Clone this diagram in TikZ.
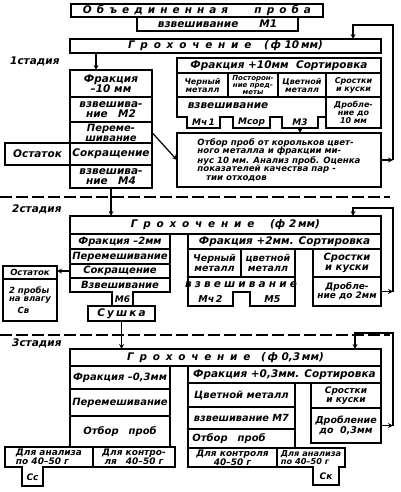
\documentclass[tikz,border=0pt]{standalone}
\usepackage{fontspec}
\setmainfont{DejaVu Sans}
\usetikzlibrary{calc}
\newcommand{\gostfont}[1]{\fontsize{#1}{#1}\selectfont\bfseries\itshape}
\tikzstyle{cell} = [rectangle, draw=black, line width=1.4pt, anchor=north west, inner sep=0.5pt, outer sep=0pt, align=center, font=\gostfont{10.5}]
\tikzstyle{txt} = [inner sep=0pt, align=center, font=\gostfont{10.5}]
\tikzstyle{outline} = [draw=black, line width=1.4pt]
\tikzstyle{arrow} = [line width=1.2pt,->,>=stealth]
\tikzstyle{stageline} = [line width=1.6pt, dash pattern=on 12pt off 4pt]
\tikzstyle{stage} = [anchor=west, inner sep=0pt, font=\gostfont{10.5}]
\newcommand{\wide}[2]{{\addfontfeature{LetterSpace=#1}#2}}
\begin{document}
\begin{tikzpicture}[x=1pt, y=-1pt]
  \useasboundingbox (0,0) rectangle (400,492);
  % stage 1
  \node (probe)[cell, minimum width=252, minimum height=13] at (71,4) {\wide{48}{Объединенная}\hspace{2.5em}\wide{48}{проба}};
  \node (weigh1)[cell, minimum width=161, minimum height=14] at (137,17) {взвешивание\hspace{2em}М1};
  \node (grokh1)[cell, minimum width=311, minimum height=14] at (70,39) {\wide{55}{Грохочение}\hspace{1.2em}(\,ф\ 10\,мм)};
  \node (st1)[stage] at (10,61) {1стадия};
  \node (frac1)[cell, minimum width=82, minimum height=27] at (70,70) {Фракция\\–10 мм};
  \node (wm2)[cell, minimum width=82, minimum height=25] at (70,97) {взвешива-\\ние\quad М2};
  \node (mix1)[cell, minimum width=82, minimum height=21, font=\gostfont{10}] at (70,122) {Переме-\\шивание};
  \node (red1)[cell, minimum width=82, minimum height=22] at (70,143) {Сокращение};
  \node (wm4)[cell, minimum width=82, minimum height=23] at (70,165) {взвешива-\\ние\quad М4};
  \node (rest1)[cell, minimum width=65, minimum height=22] at (5,143) {Остаток};
  \node (sort1)[cell, minimum width=204, minimum height=15] at (177,58) {Фракция +10мм\ \ Сортировка};
  \node (ferr1)[cell, minimum width=51, minimum height=24, font=\gostfont{8}] at (177,73) {Черный\\металл};
  \node (alien1)[cell, minimum width=50, minimum height=24, font=\gostfont{7}] at (228,73) {Посторон-\\ние пред-\\меты};
  \node (nonf1)[cell, minimum width=48, minimum height=24, font=\gostfont{8}] at (278,73) {Цветной\\металл};
  \node (lump1)[cell, minimum width=55, minimum height=24, font=\gostfont{8}] at (326,73) {Сростки\\и куски};
  \draw[outline] (177,97) -- (326,97) -- (326,117) -- (318,117) -- (318,128) -- (282,128) -- (282,117) -- (270,117) -- (270,128) -- (233,128) -- (233,117) -- (220,117) -- (220,128) -- (187,128) -- (187,117) -- (177,117) -- cycle;
  \node (weigh1b)[txt] at (228,106) {взвешивание};
  \node (mch1)[txt, font=\gostfont{9}] at (203.5,122) {Мч\,1};
  \node (msor)[txt, font=\gostfont{9}] at (251.5,122) {Мсор};
  \node (m3)[txt, font=\gostfont{9}] at (300,122) {М3};
  \node (crush1)[cell, minimum width=55, minimum height=31, font=\gostfont{8}] at (326,97) {Дробле-\\ние до\\10 мм};
  \node (anal1)[cell, minimum width=204, minimum height=54, font=\gostfont{8.6}, align=left] at (177,133) {Отбор проб от корольков цвет-\\ного металла и фракции ми-\\нус 10 мм. Анализ проб. Оценка\\показателей качества пар -\\\quad тии отходов};
  \coordinate (drop1) at (96,53);
  \coordinate (tab3) at (300,128);
  \coordinate (ret1) at (393,25);
  \coordinate (turn1) at (353,25);
  \draw[stageline] (0,197) -- (390,197);
  % stage 2
  \node (st2)[stage] at (12,209) {2стадия};
  \node (grokh2)[cell, minimum width=311, minimum height=18] at (70,216) {\wide{55}{Грохочение}\hspace{1.5em}(ф\ 2\,мм)};
  \node (frac2)[cell, minimum width=100, minimum height=15, font=\gostfont{10}] at (70,234) {Фракция –2мм};
  \node (mix2)[cell, minimum width=100, minimum height=15, font=\gostfont{10}] at (70,249) {Перемешивание};
  \node (red2)[cell, minimum width=100, minimum height=14, font=\gostfont{10}] at (70,264) {Сокращение};
  \draw[outline] (70,278) -- (170,278) -- (170,292) -- (133,292) -- (133,306) -- (112,306) -- (112,292) -- (70,292) -- cycle;
  \node (wm6)[txt, font=\gostfont{10}] at (120,285) {Взвешивание};
  \node (m6)[txt, font=\gostfont{9}] at (122.5,299) {М6};
  \node (dry2)[cell, minimum width=67, minimum height=15] at (88,306) {\wide{20}{Сушка}};
  \node (rest2)[cell, minimum width=54, minimum height=13, font=\gostfont{8.5}] at (3,266) {Остаток};
  \node (moist2)[cell, minimum width=54, minimum height=42, font=\gostfont{8.5}, align=left] at (3,279) {2 пробы\\на влагу\\[3pt]\quad Св};
  \node (sort2)[cell, minimum width=193, minimum height=15] at (188,234) {Фракция +2мм. Сортировка};
  \node (ferr2)[cell, minimum width=53, minimum height=28, font=\gostfont{9.5}] at (188,249) {Черный\\металл};
  \node (nonf2)[cell, minimum width=54, minimum height=28, font=\gostfont{9.5}] at (241,249) {цветной\\металл};
  \node (lump2)[cell, minimum width=68, minimum height=28, font=\gostfont{10}] at (313,249) {Сростки\\и куски};
  \draw[outline] (188,277) -- (295,277) -- (295,306) -- (250,306) -- (250,292) -- (233,292) -- (233,306) -- (188,306) -- cycle;
  \node (weigh2)[txt] at (241,284.5) {\wide{30}{взвешивание}};
  \node (mch2)[txt, font=\gostfont{9.5}] at (210.5,299) {Мч\,2};
  \node (m5)[txt, font=\gostfont{9.5}] at (272.5,299) {М5};
  \node (crush2)[cell, minimum width=68, minimum height=29, font=\gostfont{9}] at (313,277) {Дробле-\\ние до 2мм};
  \coordinate (ret2) at (393,208);
  \coordinate (turn2) at (353,208);
  \draw[stageline] (0,335) -- (390,335);
  % stage 3
  \node (st3)[stage] at (12,343) {3стадия};
  \node (grokh3)[cell, minimum width=311, minimum height=17] at (70,349) {\wide{55}{Грохочение}\hspace{1em}(\,ф\ 0,3\,мм)};
  \node (frac3)[cell, minimum width=100, minimum height=23, font=\gostfont{10}] at (70,366) {Фракция –0,3мм};
  \node (mix3)[cell, minimum width=100, minimum height=27, font=\gostfont{10}] at (70,389) {Перемешивание};
  \node (samp3l)[cell, minimum width=100, minimum height=31, font=\gostfont{10}] at (70,416) {Отбор\quad проб};
  \draw[outline] (5,447) -- (93,447) -- (93,467) -- (43,467) -- (43,486) -- (22,486) -- (22,467) -- (5,467) -- cycle;
  \node (an3l)[txt, font=\gostfont{9}, align=left] at (49,457) {Для анализа\\по 40–50 г};
  \node (cc)[txt, font=\gostfont{9}] at (32.5,477) {Сс};
  \node (ct3l)[cell, minimum width=82, minimum height=20, font=\gostfont{9}] at (93,447) {Для контро-\\ля\quad 40–50 г};
  \node (sort3)[cell, minimum width=193, minimum height=17] at (188,366) {Фракция +0,3мм. Сортировка};
  \node (nonf3)[cell, minimum width=107, minimum height=24, font=\gostfont{10}] at (188,383) {Цветной металл};
  \node (wm7)[cell, minimum width=107, minimum height=22, font=\gostfont{9.8}] at (188,407) {взвешивание М7};
  \node (samp3r)[cell, minimum width=107, minimum height=19, font=\gostfont{10}] at (188,429) {Отбор\quad проб\hspace{2.5em}};
  \node (ct3r)[cell, minimum width=89, minimum height=19, font=\gostfont{9}] at (188,448) {Для контроля\\40–50 г};
  \draw[outline] (277,448) -- (345,448) -- (345,467) -- (339,467) -- (339,485) -- (313,485) -- (313,467) -- (277,467) -- cycle;
  \node (an3r)[txt, font=\gostfont{8.2}, align=left] at (311,457.5) {Для анализа\\по 40–50 г};
  \node (ck)[txt, font=\gostfont{9}] at (326,476) {Ск};
  \node (lump3)[cell, minimum width=70, minimum height=25, font=\gostfont{9}] at (311,383) {Сростки\\и куски};
  \node (crush3)[cell, minimum width=70, minimum height=35, font=\gostfont{9.5}] at (311,408) {Дробление\\до\ \ 0,3мм};
  \coordinate (ret3) at (393,333);
  \coordinate (turn3) at (355,333);
  % connectors
  \draw[arrow] (drop1) -- (drop1 |- frac1.north);
  \draw[arrow] (tab3) -- (tab3 |- anal1.north);
  \draw[arrow] (mix1.east) -- (anal1.west);
  \draw[arrow] (anal1.east) -- (anal1.east -| ret1);
  \draw[arrow] (anal1.east -| ret1) -- (ret1) -- (turn1) -- (turn1 |- grokh1.north);
  \draw[arrow] (wm4.south) -- (wm4.south |- grokh2.north);
  \draw[arrow] (red2.west) -- (red2.west -| rest2.east);
  \draw[arrow] (crush2.east) -- (crush2.east -| ret2);
  \draw[arrow] (crush2.east -| ret2) -- (ret2) -- (turn2) -- (turn2 |- grokh2.north);
  \draw[arrow] (dry2.south) -- (dry2.south |- grokh3.north);
  \draw[arrow] (crush3.east) -- (crush3.east -| ret3);
  \draw[arrow] (crush3.east -| ret3) -- (ret3) -- (turn3) -- (turn3 |- grokh3.north);
\end{tikzpicture}
\end{document}
